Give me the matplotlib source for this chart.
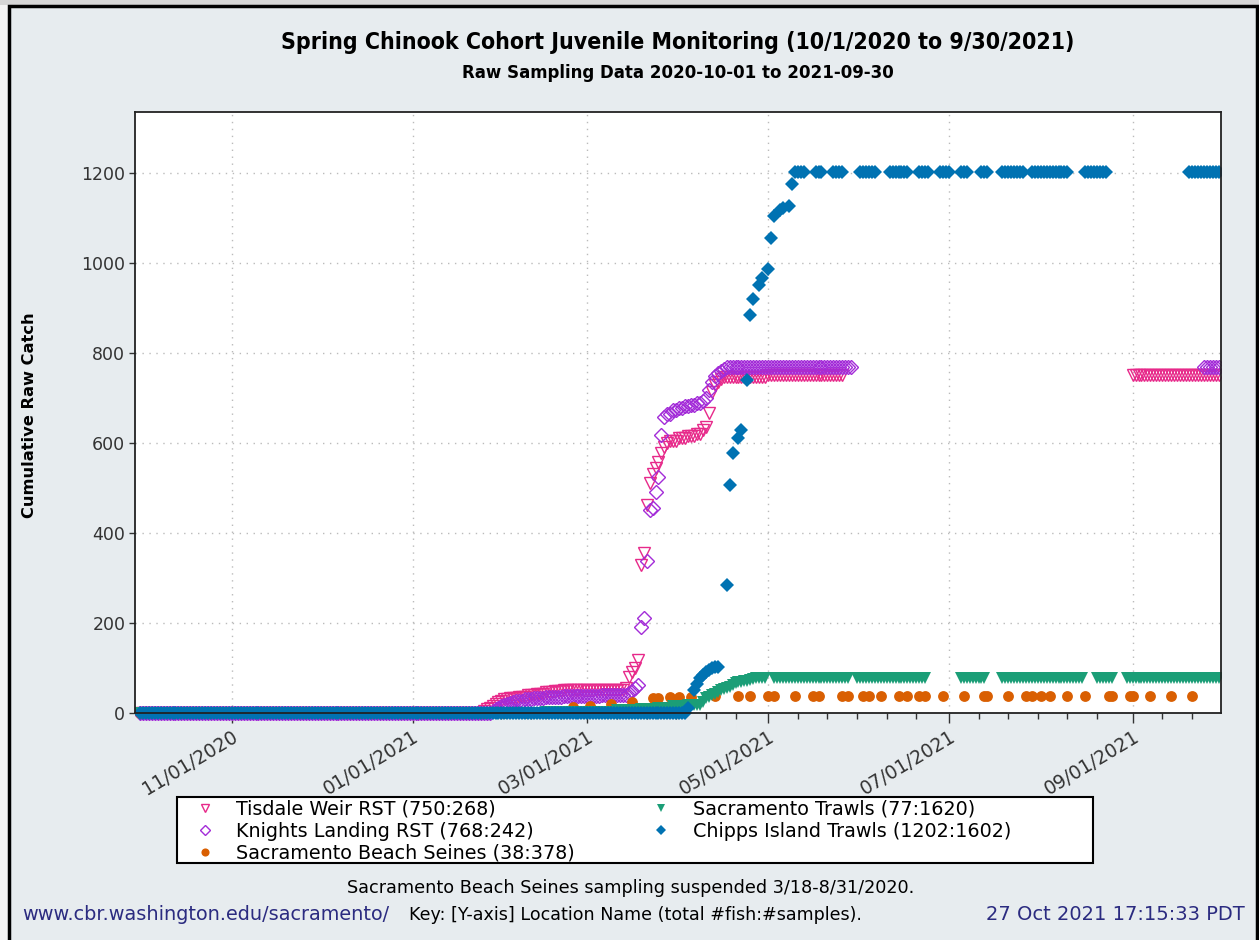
import pandas as pd
import matplotlib
matplotlib.use("Agg")
import matplotlib.pyplot as plt
import matplotlib.dates as mdates
from matplotlib.lines import Line2D
from matplotlib.patches import Rectangle
from matplotlib.transforms import Bbox, TransformedBbox

W, H = 1259, 940

# cumulative catch by sampling day: (first day, last day, cumulative value)
tisdale_runs = [
    ("2020-10-01", "2021-01-24", 0), ("2021-01-25", "2021-01-25", 5),
    ("2021-01-26", "2021-01-26", 8), ("2021-01-27", "2021-01-27", 12),
    ("2021-01-28", "2021-01-28", 15), ("2021-01-29", "2021-01-29", 20),
    ("2021-01-30", "2021-01-30", 24), ("2021-01-31", "2021-01-31", 27),
    ("2021-02-01", "2021-02-01", 30), ("2021-02-02", "2021-02-02", 32),
    ("2021-02-03", "2021-02-05", 34), ("2021-02-06", "2021-02-08", 36),
    ("2021-02-09", "2021-02-11", 40), ("2021-02-12", "2021-02-14", 43),
    ("2021-02-15", "2021-02-17", 46), ("2021-02-18", "2021-02-20", 48),
    ("2021-02-21", "2021-03-13", 50), ("2021-03-14", "2021-03-14", 55),
    ("2021-03-15", "2021-03-15", 81), ("2021-03-16", "2021-03-16", 92),
    ("2021-03-17", "2021-03-17", 100), ("2021-03-18", "2021-03-18", 118),
    ("2021-03-19", "2021-03-19", 329), ("2021-03-20", "2021-03-20", 355),
    ("2021-03-21", "2021-03-21", 462), ("2021-03-22", "2021-03-22", 510),
    ("2021-03-23", "2021-03-23", 530), ("2021-03-24", "2021-03-24", 545),
    ("2021-03-25", "2021-03-25", 558), ("2021-03-26", "2021-03-26", 577),
    ("2021-03-27", "2021-03-27", 590), ("2021-03-28", "2021-03-28", 599),
    ("2021-03-29", "2021-03-31", 605), ("2021-04-01", "2021-04-03", 610),
    ("2021-04-04", "2021-04-06", 615), ("2021-04-07", "2021-04-08", 620),
    ("2021-04-09", "2021-04-09", 628), ("2021-04-10", "2021-04-10", 636),
    ("2021-04-11", "2021-04-11", 666), ("2021-04-12", "2021-04-12", 714),
    ("2021-04-13", "2021-04-13", 729), ("2021-04-14", "2021-04-14", 736),
    ("2021-04-15", "2021-04-15", 741), ("2021-04-16", "2021-04-30", 746),
    ("2021-05-01", "2021-05-26", 750), ("2021-09-01", "2021-09-30", 750),
]

knights_runs = [
    ("2020-10-01", "2021-01-27", 0), ("2021-01-28", "2021-01-28", 5),
    ("2021-01-29", "2021-01-29", 8), ("2021-01-30", "2021-01-30", 12),
    ("2021-01-31", "2021-01-31", 15), ("2021-02-01", "2021-02-01", 18),
    ("2021-02-02", "2021-02-02", 20), ("2021-02-03", "2021-02-03", 22),
    ("2021-02-04", "2021-02-04", 24), ("2021-02-05", "2021-02-07", 27),
    ("2021-02-08", "2021-02-10", 30), ("2021-02-11", "2021-02-14", 33),
    ("2021-02-15", "2021-02-20", 35), ("2021-02-21", "2021-03-05", 37),
    ("2021-03-06", "2021-03-14", 40), ("2021-03-15", "2021-03-15", 44),
    ("2021-03-16", "2021-03-16", 48), ("2021-03-17", "2021-03-17", 55),
    ("2021-03-18", "2021-03-18", 62), ("2021-03-19", "2021-03-19", 191),
    ("2021-03-20", "2021-03-20", 211), ("2021-03-21", "2021-03-21", 338),
    ("2021-03-22", "2021-03-22", 451), ("2021-03-23", "2021-03-23", 455),
    ("2021-03-24", "2021-03-24", 490), ("2021-03-25", "2021-03-25", 525),
    ("2021-03-26", "2021-03-26", 618), ("2021-03-27", "2021-03-27", 658),
    ("2021-03-28", "2021-03-29", 664), ("2021-03-30", "2021-03-31", 672),
    ("2021-04-01", "2021-04-02", 677), ("2021-04-03", "2021-04-04", 681),
    ("2021-04-05", "2021-04-06", 685), ("2021-04-07", "2021-04-08", 689),
    ("2021-04-09", "2021-04-09", 694), ("2021-04-10", "2021-04-10", 700),
    ("2021-04-11", "2021-04-11", 718), ("2021-04-12", "2021-04-12", 736),
    ("2021-04-13", "2021-04-13", 748), ("2021-04-14", "2021-04-14", 755),
    ("2021-04-15", "2021-04-15", 760), ("2021-04-16", "2021-04-16", 764),
    ("2021-04-17", "2021-05-29", 768), ("2021-09-25", "2021-09-30", 768),
]

trawls_runs = [
    ("2020-10-01", "2021-02-14", 0), ("2021-02-15", "2021-03-10", 3),
    ("2021-03-11", "2021-03-18", 7), ("2021-03-19", "2021-03-24", 9),
    ("2021-03-25", "2021-03-29", 12), ("2021-03-30", "2021-04-03", 15),
    ("2021-04-04", "2021-04-08", 18), ("2021-04-09", "2021-04-09", 25),
    ("2021-04-10", "2021-04-10", 33), ("2021-04-11", "2021-04-11", 36),
    ("2021-04-12", "2021-04-12", 40), ("2021-04-13", "2021-04-13", 43),
    ("2021-04-14", "2021-04-14", 47), ("2021-04-15", "2021-04-15", 51),
    ("2021-04-16", "2021-04-16", 53), ("2021-04-17", "2021-04-17", 55),
    ("2021-04-18", "2021-04-18", 58), ("2021-04-19", "2021-04-19", 62),
    ("2021-04-20", "2021-04-20", 66), ("2021-04-21", "2021-04-22", 69),
    ("2021-04-23", "2021-04-23", 70), ("2021-04-24", "2021-04-24", 72),
    ("2021-04-25", "2021-04-25", 74), ("2021-04-26", "2021-04-26", 76),
    ("2021-04-27", "2021-04-30", 77), ("2021-05-03", "2021-05-28", 77),
    ("2021-05-31", "2021-06-23", 77), ("2021-07-05", "2021-07-13", 77),
    ("2021-07-19", "2021-08-15", 77), ("2021-08-20", "2021-08-25", 77),
    ("2021-08-30", "2021-09-30", 77),
]

chipps_runs = [
    ("2020-10-01", "2021-04-03", 0), ("2021-04-04", "2021-04-04", 11),
    ("2021-04-06", "2021-04-06", 51), ("2021-04-07", "2021-04-07", 65),
    ("2021-04-08", "2021-04-08", 77), ("2021-04-09", "2021-04-09", 84),
    ("2021-04-10", "2021-04-10", 90), ("2021-04-11", "2021-04-11", 96),
    ("2021-04-12", "2021-04-12", 99), ("2021-04-13", "2021-04-14", 102),
    ("2021-04-17", "2021-04-17", 284), ("2021-04-18", "2021-04-18", 507),
    ("2021-04-19", "2021-04-19", 577), ("2021-04-21", "2021-04-21", 611),
    ("2021-04-22", "2021-04-22", 629), ("2021-04-24", "2021-04-24", 740),
    ("2021-04-25", "2021-04-25", 883), ("2021-04-26", "2021-04-26", 920),
    ("2021-04-28", "2021-04-28", 951), ("2021-04-29", "2021-04-29", 967),
    ("2021-05-01", "2021-05-01", 987), ("2021-05-02", "2021-05-02", 1056),
    ("2021-05-03", "2021-05-03", 1104), ("2021-05-05", "2021-05-05", 1118),
    ("2021-05-06", "2021-05-06", 1122), ("2021-05-08", "2021-05-08", 1127),
    ("2021-05-09", "2021-05-09", 1175), ("2021-05-10", "2021-05-13", 1202),
    ("2021-05-17", "2021-05-19", 1202), ("2021-05-23", "2021-05-26", 1202),
    ("2021-06-01", "2021-06-06", 1202), ("2021-06-11", "2021-06-17", 1202),
    ("2021-06-21", "2021-06-24", 1202), ("2021-06-28", "2021-07-01", 1202),
    ("2021-07-05", "2021-07-07", 1202), ("2021-07-12", "2021-07-14", 1202),
    ("2021-07-19", "2021-07-26", 1202), ("2021-07-29", "2021-08-10", 1202),
    ("2021-08-16", "2021-08-23", 1202), ("2021-09-20", "2021-09-30", 1202),
]

beach_dates = [
    "2020-10-01", "2020-10-24", "2020-11-25", "2020-12-04", "2020-12-07",
    "2020-12-11", "2020-12-14", "2020-12-18", "2020-12-21", "2020-12-28",
    "2021-01-04", "2021-01-11", "2021-01-18", "2021-01-25", "2021-02-01",
    "2021-02-08", "2021-02-15", "2021-02-22", "2021-02-24", "2021-03-02",
    "2021-03-09", "2021-03-16", "2021-03-23", "2021-03-25", "2021-03-29",
    "2021-04-01", "2021-04-05", "2021-04-13", "2021-04-21", "2021-04-25",
    "2021-05-01", "2021-05-03", "2021-05-10", "2021-05-16", "2021-05-18",
    "2021-05-26", "2021-05-28", "2021-06-02", "2021-06-04", "2021-06-08",
    "2021-06-14", "2021-06-17", "2021-06-21", "2021-06-23", "2021-06-29",
    "2021-07-06", "2021-07-13", "2021-07-14", "2021-07-21", "2021-07-27",
    "2021-07-29", "2021-08-01", "2021-08-04", "2021-08-10", "2021-08-16",
    "2021-08-24", "2021-08-25", "2021-08-31", "2021-09-01", "2021-09-07",
    "2021-09-14", "2021-09-21",
]
beach_values = [
    0, 0, 0, 0, 0, 0, 0, 0, 0, 0, 0, 0, 0, 0, 0, 0, 0, 3, 13, 16,
    20, 25, 33, 33, 36, 36, 36, 38, 38, 38, 38, 38, 38, 38, 38, 38, 38, 38, 38, 38,
    38, 38, 38, 38, 38, 38, 38, 38, 38, 38, 38, 38, 38, 38, 38, 38, 38, 38, 38, 38,
    38, 38,
]

labels = [
    "Tisdale Weir RST (750:268)",
    "Knights Landing RST (768:242)",
    "Sacramento Beach Seines (38:378)",
    "Sacramento Trawls (77:1620)",
    "Chipps Island Trawls (1202:1602)",
]


def expand(runs):
    dates, values = [], []
    for start, end, value in runs:
        for day in pd.date_range(start, end, freq="D"):
            dates.append(day)
            values.append(value)
    return dates, values


fig = plt.figure(figsize=(W / 100, H / 100), dpi=100)
fig.patch.set_facecolor("#F4F4F4")
fig.patches.append(Rectangle((0, 1 - 5 / H), 1, 5 / H, transform=fig.transFigure,
                             facecolor="#D6D6D6", lw=0, zorder=-6))
fig.patches.append(Rectangle((9 / W, -0.02), (1257 - 9) / W, (940 - 6) / H + 0.02,
                             transform=fig.transFigure, facecolor="#E7ECEF",
                             edgecolor="black", lw=2.5, zorder=-5))

ax = fig.add_axes([135 / W, 1 - 713 / H, (1221 - 135) / W, (713 - 112) / H])
ax.set_facecolor("white")

styles = [
    dict(marker="v", ms=8, mfc="none", mec="#E7298A", mew=1.0),
    dict(marker="D", ms=6.8, mfc="none", mec="#A32CD8", mew=1.0),
    dict(marker="o", ms=7.8, mfc="#D95F02", mec="#D95F02", mew=0),
    dict(marker="v", ms=8, mfc="#1B9E77", mec="#1B9E77", mew=0),
    dict(marker="D", ms=7, mfc="#0072B2", mec="#0072B2", mew=0),
]

series = [
    expand(tisdale_runs),
    expand(knights_runs),
    (pd.to_datetime(beach_dates), beach_values),
    expand(trawls_runs),
    expand(chipps_runs),
]

# let markers sitting on zero spill a little below the plot area
clip = TransformedBbox(Bbox([[0, -0.03], [1, 1]]), ax.transAxes)
for (dates, values), style in zip(series, styles):
    line, = ax.plot(dates, values, ls="none", **style)
    line.set_clip_box(clip)

majors = pd.to_datetime(["2020-09-01", "2020-11-01", "2021-01-01", "2021-03-01",
                         "2021-05-01", "2021-07-01", "2021-09-01"])
ax.set_xticks(majors[1:])
ax.xaxis.set_major_formatter(mdates.DateFormatter("%m/%d/%Y"))
minors = [m + pd.Timedelta(days=10 * k) for m in majors for k in range(1, 6)]
ax.set_xticks(minors, minor=True)
ax.set_yticks(range(0, 1201, 200))

ax.set_xlim(pd.Timestamp("2020-09-29 08:00"), pd.Timestamp("2021-09-30 20:00"))
ax.set_ylim(0, 1335)

ax.grid(True, which="major", ls=(0, (1, 4)), color="#BBBBBB", lw=1.0)
ax.tick_params(axis="x", which="major", length=7, width=1, color="#333333",
               labelsize=13.4, labelcolor="#333333", pad=3)
ax.tick_params(axis="x", which="minor", length=4, width=1, color="#333333")
ax.tick_params(axis="y", length=4, width=1, color="#333333", labelsize=12.5,
               labelcolor="#333333", pad=3)
for lbl in ax.get_xticklabels():
    lbl.set_rotation(31)
    lbl.set_ha("right")
    lbl.set_rotation_mode("anchor")
for sp in ax.spines.values():
    sp.set_color("#222222")
    sp.set_linewidth(1.3)

fig.text(678 / W, 1 - 42 / H, "Spring Chinook Cohort Juvenile Monitoring (10/1/2020 to 9/30/2021)",
         ha="center", va="center", fontsize=16.6, fontweight="bold", fontstretch="condensed")
fig.text(678 / W, 1 - 73 / H, "Raw Sampling Data 2020-10-01 to 2021-09-30",
         ha="center", va="center", fontsize=13.3, fontweight="bold", fontstretch="condensed")
fig.text(30 / W, 1 - 415 / H, "Cumulative Raw Catch", rotation=90,
         ha="center", va="center", fontsize=11.7, fontweight="bold")

# legend box under the axes
fig.patches.append(Rectangle((177 / W, 1 - 863 / H), (1093 - 177) / W, (863 - 797) / H,
                             transform=fig.transFigure, facecolor="white",
                             edgecolor="black", lw=1.5, zorder=1))
handles = [Line2D([], [], ls="none", **s) for s in styles]
leg = fig.legend(handles, labels, ncol=2, loc="upper left",
                 bbox_to_anchor=(177 / W, 1 - 792 / H), borderaxespad=0,
                 frameon=False, fontsize=13.8, handlelength=2.1, handletextpad=0.6,
                 columnspacing=3.45, labelspacing=0.16, borderpad=0.4,
                 markerscale=0.75)
leg.set_zorder(2)

fig.text(631 / W, 1 - 888 / H, "Sacramento Beach Seines sampling suspended 3/18-8/31/2020.",
         ha="center", va="center", fontsize=12.7)
fig.text(22 / W, 1 - 915 / H, "www.cbr.washington.edu/sacramento/",
         ha="left", va="center", fontsize=13.9, color="#2B2B80")
fig.text(409 / W, 1 - 915 / H, "Key: [Y-axis] Location Name (total #fish:#samples).",
         ha="left", va="center", fontsize=12.6)
fig.text(1245 / W, 1 - 915 / H, "27 Oct 2021 17:15:33 PDT",
         ha="right", va="center", fontsize=14, color="#2B2B80")

fig.savefig("out.png", dpi=100)
